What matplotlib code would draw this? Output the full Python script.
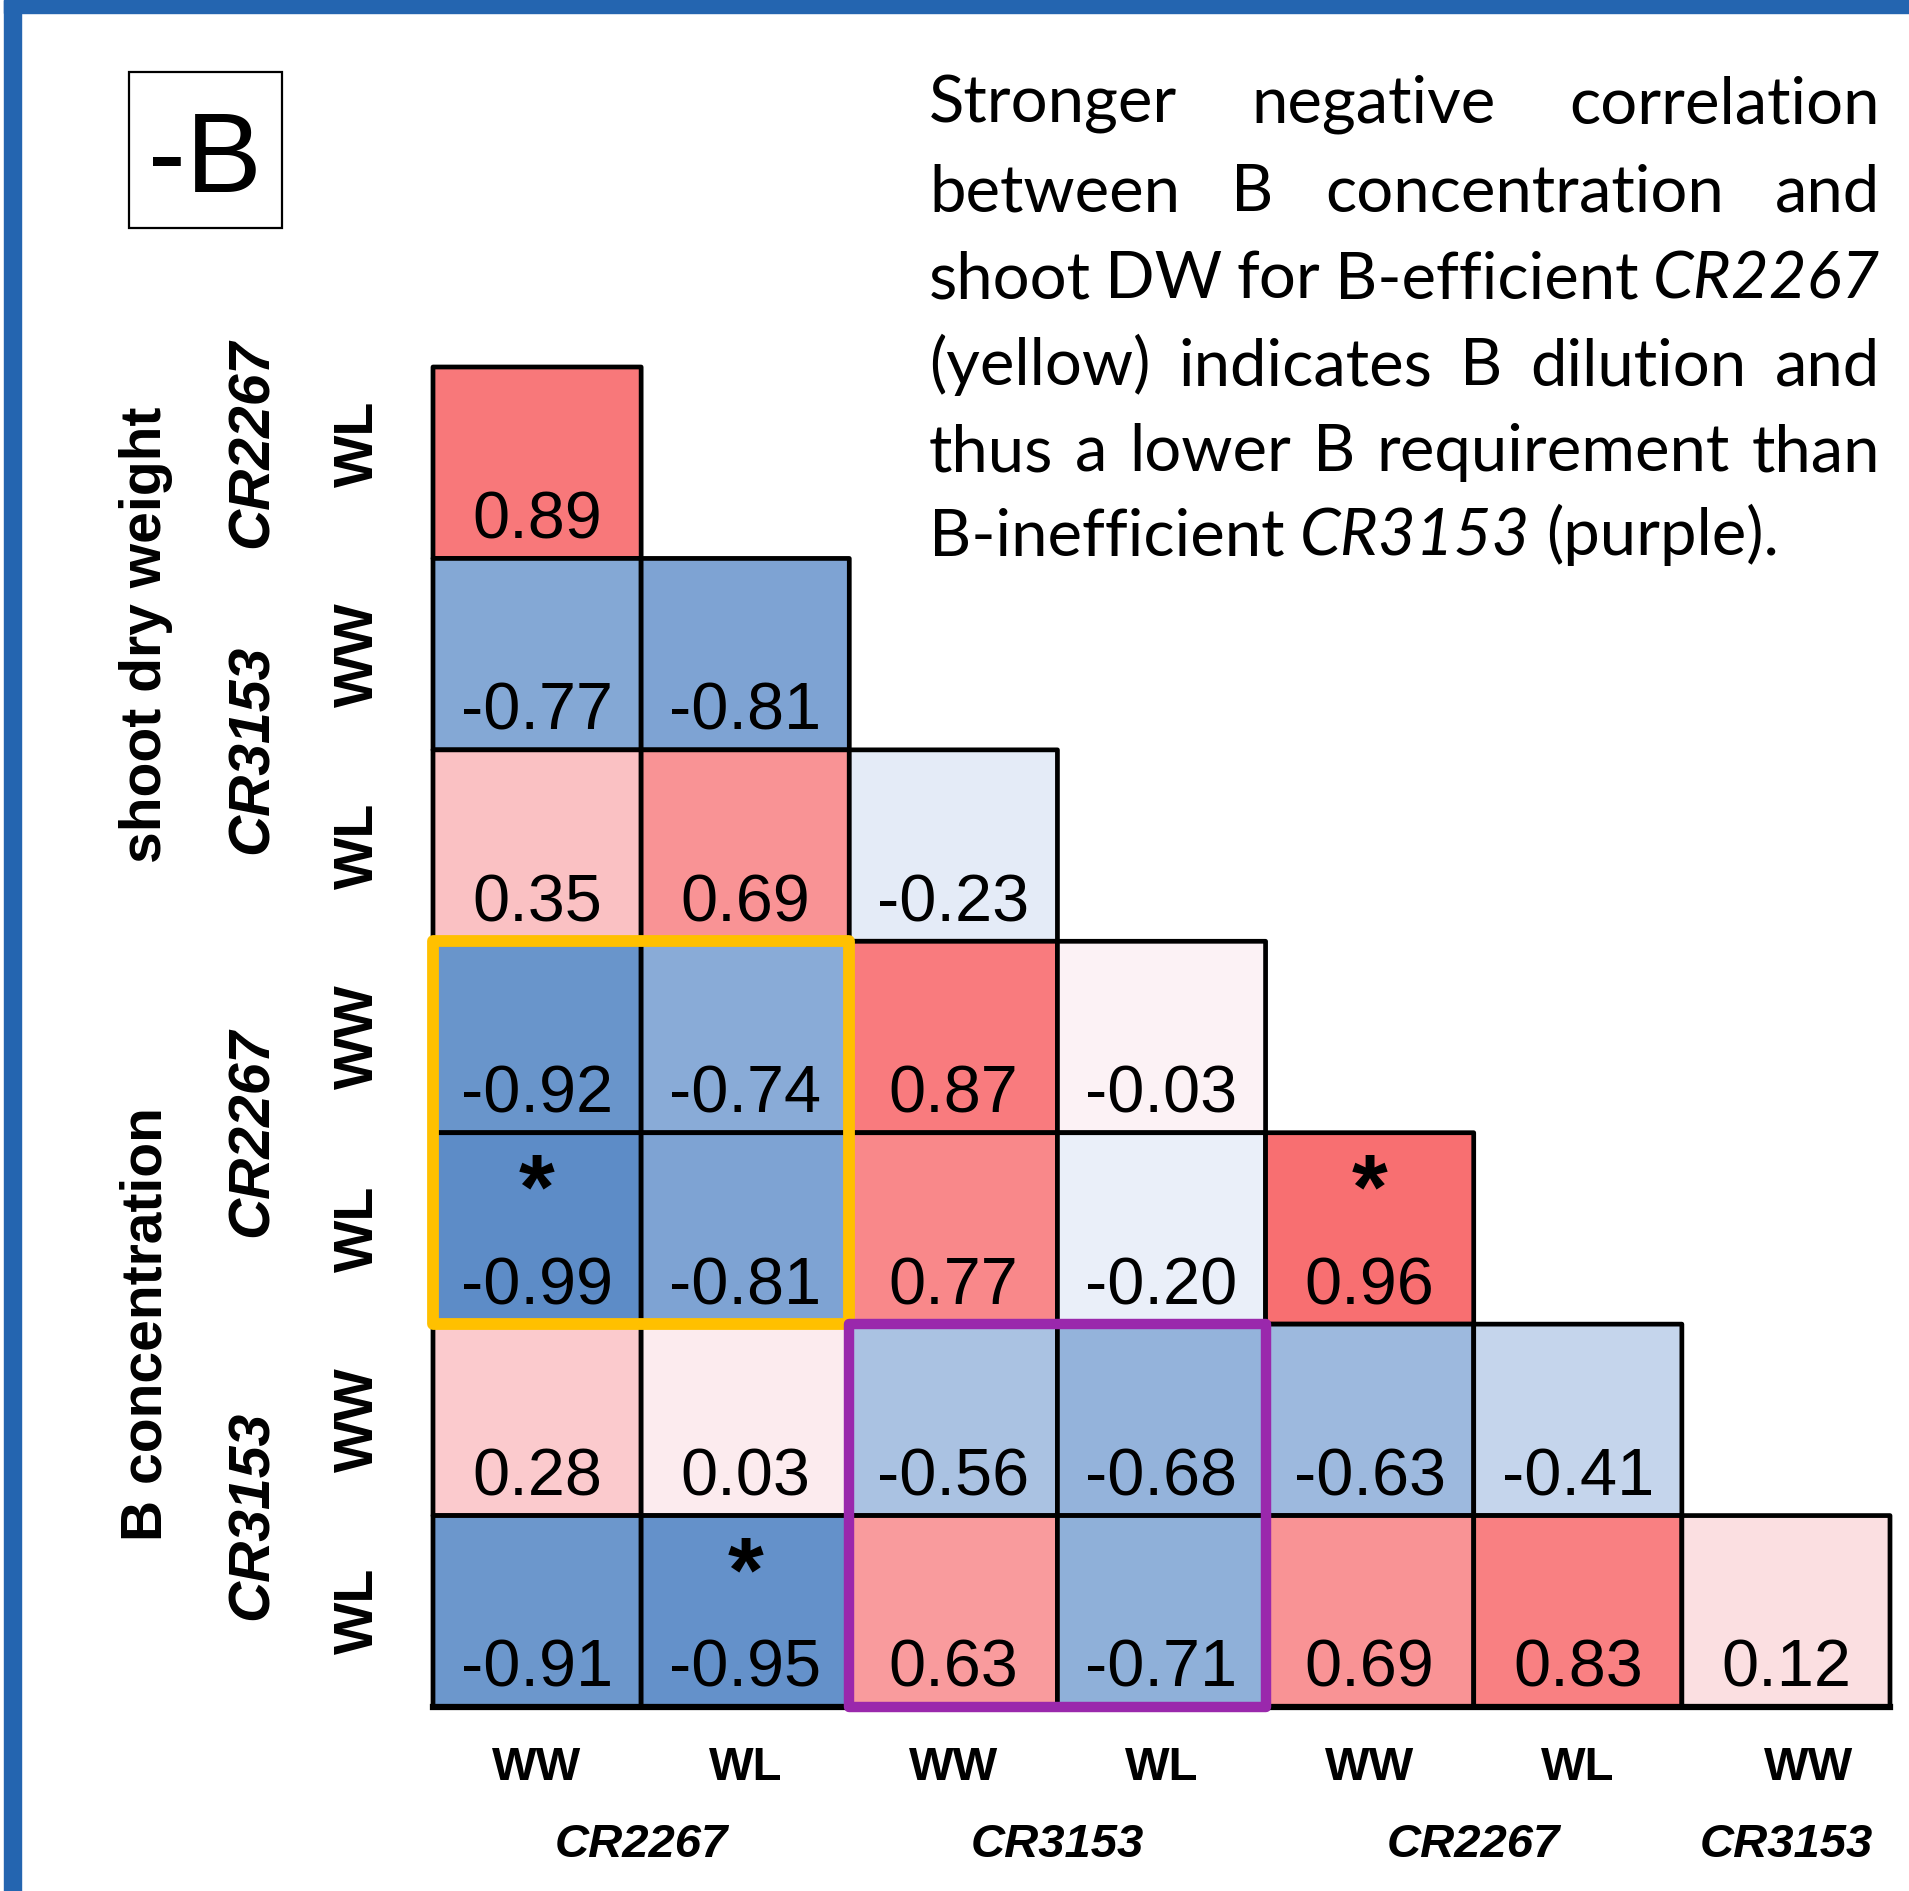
import numpy as np
import matplotlib.pyplot as plt
import matplotlib.transforms as mtransforms
from matplotlib.colors import LinearSegmentedColormap, TwoSlopeNorm
from matplotlib.patches import Rectangle


W, H = 1909, 1891
DPI = 100

# correlation matrix (lower triangle, row by row)
corr_rows = [
    [0.89],
    [-0.77, -0.81],
    [0.35, 0.69, -0.23],
    [-0.92, -0.74, 0.87, -0.03],
    [-0.99, -0.81, 0.77, -0.20, 0.96],
    [0.28, 0.03, -0.56, -0.68, -0.63, -0.41],
    [-0.91, -0.95, 0.63, -0.71, 0.69, 0.83, 0.12],
]
signif = [(4, 0), (4, 4), (6, 1)]  # (row, col) with *

row_labels = ["WL", "WW", "WL", "WW", "WL", "WW", "WL"]
col_labels = ["WW", "WL", "WW", "WL", "WW", "WL", "WW"]
row_groups = [("CR2267", 0, 1), ("CR3153", 1, 3), ("CR2267", 3, 5), ("CR3153", 5, 7)]
col_groups = [("CR2267", 0, 2), ("CR3153", 2, 4), ("CR2267", 4, 6), ("CR3153", 6, 7)]
trait_groups = [("shoot dry weight", 0, 3), ("B concentration", 3, 7)]

panel_tag = "-B"
para_lines = [
    "Stronger negative correlation",
    "between B concentration and",
    "shoot DW for B-efficient CR2267",
    "(yellow) indicates B dilution and",
    "thus a lower B requirement than",
    "B-inefficient CR3153 (purple).",
]
italic_words = {"CR2267", "CR3153"}

n = len(corr_rows)
mat = np.full((n, n), np.nan)
for i, vals in enumerate(corr_rows):
    mat[i, :len(vals)] = vals

cmap = LinearSegmentedColormap.from_list("xl", ["#5A8AC6", "#FCFCFF", "#F8696B"])
norm = TwoSlopeNorm(vmin=-1.01, vcenter=-0.1, vmax=1.01)

fig = plt.figure(figsize=(W / DPI, H / DPI), dpi=DPI)
fig.patch.set_facecolor("white")


def fx(px):
    return px / W


def fy(py):
    return 1 - py / H


# blue frame
fig.patches.append(Rectangle((fx(4), 0), fx(17), 1, transform=fig.transFigure,
                             color="#2465B0", zorder=0))
fig.patches.append(Rectangle((fx(4), fy(13)), 1, 13 / H, transform=fig.transFigure,
                             color="#2465B0", zorder=0))

ax = fig.add_axes([fx(433), fy(1707), 1457 / W, 1340 / H])
ax.set_xlim(0, n)
ax.set_ylim(n, 0)
ax.axis("off")

mesh = ax.pcolor(np.ma.masked_invalid(mat), cmap=cmap, norm=norm,
                 edgecolors="black", linewidth=3.4)
mesh.set_clip_on(False)
# slightly heavier bottom edge
ax.plot([0, n], [n, n], color="black", lw=4.5, solid_capstyle="projecting",
        clip_on=False, zorder=4)

for i in range(n):
    for j in range(i + 1):
        ax.text(j + 0.5, i + 1 - 0.105, f"{mat[i, j]:.2f}", ha="center", va="baseline",
                fontsize=48, family="Liberation Sans", zorder=5)
for i, j in signif:
    ax.text(j + 0.5, i + 0.1, "*", ha="center", va="top", fontsize=66,
            fontweight="bold", family="Liberation Sans", zorder=5)

ax.add_patch(Rectangle((0, 3), 2, 2, fill=False, ec="#FFC000", lw=8.5,
                       joinstyle="round", clip_on=False, zorder=6))
ax.add_patch(Rectangle((2, 5), 2, 2, fill=False, ec="#9A28AC", lw=7.5,
                       joinstyle="round", clip_on=False, zorder=7))

# left labels (rotated)
ty = mtransforms.blended_transform_factory(fig.transFigure, ax.transData)
lab_kw = dict(rotation=90, rotation_mode="anchor", ha="center", va="baseline",
              family="Liberation Sans", fontweight="bold", transform=ty)
top_shift = 0.1
for i, lab in enumerate(row_labels):
    sh = top_shift if i == 0 else 0
    fig.text(fx(373), i + 0.5 - sh, lab, fontsize=40, **lab_kw)
for lab, a, b in row_groups:
    sh = top_shift if a == 0 else 0
    fig.text(fx(268), (a + b) / 2 - sh, lab, fontsize=41, style="italic", **lab_kw)
for lab, a, b in trait_groups:
    sh = top_shift if a == 0 else 0
    fig.text(fx(161), (a + b) / 2 - sh, lab, fontsize=41, **lab_kw)

# bottom labels
tx = mtransforms.blended_transform_factory(ax.transData, fig.transFigure)
for j, lab in enumerate(col_labels):
    sh = 0.11 if j == n - 1 else 0
    fig.text(j + 0.5 + sh, fy(1780), lab, ha="center", va="baseline", fontsize=34,
             family="Liberation Sans", fontweight="bold", transform=tx)
for lab, a, b in col_groups:
    fig.text((a + b) / 2, fy(1857), lab, ha="center", va="baseline", fontsize=34,
             family="Liberation Sans", fontweight="bold", style="italic", transform=tx)

# panel tag
fig.patches.append(Rectangle((fx(129), fy(228)), 153 / W, 156 / H, transform=fig.transFigure,
                             fill=False, ec="black", lw=1.6))
fig.text(fx(205), fy(192), panel_tag, ha="center", va="baseline", fontsize=82,
         family="Liberation Sans")

# justified paragraph
left, right = 929, 1880
baselines = [123, 211, 298, 385, 471, 555]
renderer = fig.canvas.get_renderer()
fs = 47
space = 0.24 * fs * DPI / 72
for k, line in enumerate(para_lines):
    words = line.split()
    texts = [fig.text(0, 0, w, fontsize=fs, family="Lato", ha="left", va="baseline",
                      style="italic" if w in italic_words else "normal")
             for w in words]
    widths = [t.get_window_extent(renderer).width for t in texts]
    if k < len(para_lines) - 1:
        gap = max((right - left - sum(widths)) / (len(words) - 1), space * 0.8)
    else:
        gap = space
    x = left
    for t, wd in zip(texts, widths):
        t.set_position((fx(x), fy(baselines[k])))
        x += wd + gap

fig.savefig("out.png", dpi=DPI)
